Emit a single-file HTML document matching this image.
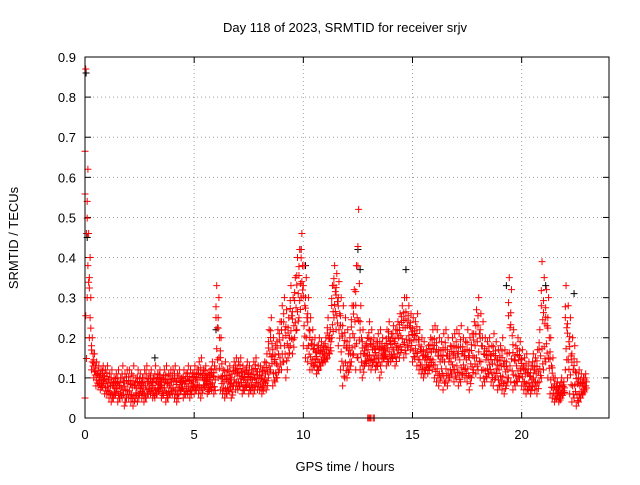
<!DOCTYPE html>
<html><head><meta charset="utf-8"><style>
body{margin:0;background:#fff}
svg text{font-family:"Liberation Sans",sans-serif;font-size:13px;fill:#000}
</style></head><body>
<svg id="chart" width="640" height="480"></svg>
<script>
const yTicks=[0,0.1,0.2,0.3,0.4,0.5,0.6,0.7,0.8,0.9];
const yTickLabels=["0","0.1","0.2","0.3","0.4","0.5","0.6","0.7","0.8","0.9"];
const xTicks=[0,5,10,15,20];
const xTickLabels=["0","5","10","15","20"];
const tStep=0.1;
const redHi=[.87,.62,.40,.20,.16,.14,.13,.12,.13,.12,.13,.11,.12,.10,.11,.12,.10,.13,.11,.12,.12,.11,.13,.10,.12,.11,.10,.12,.13,.11,.12,.10,.13,.11,.12,.10,.12,.13,.11,.12,.12,.13,.11,.12,.10,.12,.11,.13,.12,.11,.13,.12,.14,.15,.12,.13,.11,.12,.14,.13,.33,.30,.20,.12,.14,.12,.13,.11,.14,.15,.14,.15,.13,.12,.14,.13,.12,.14,.15,.13,.13,.12,.14,.16,.22,.25,.20,.18,.22,.24,.28,.30,.27,.25,.33,.30,.35,.40,.42,.46,.38,.35,.30,.25,.22,.20,.18,.20,.19,.18,.20,.25,.22,.33,.38,.36,.34,.30,.28,.25,.22,.20,.28,.32,.38,.52,.28,.22,.18,.20,.24,.22,.20,.19,.21,.22,.20,.18,.22,.24,.21,.23,.22,.24,.26,.28,.30,.30,.28,.26,.25,.24,.26,.22,.20,.19,.17,.18,.20,.22,.23,.22,.20,.19,.21,.22,.20,.18,.20,.21,.22,.21,.23,.20,.19,.22,.20,.21,.24,.27,.30,.26,.24,.20,.19,.20,.18,.21,.19,.17,.18,.20,.17,.16,.35,.32,.22,.18,.20,.19,.17,.15,.16,.14,.13,.16,.15,.17,.22,.39,.35,.32,.30,.20,.15,.10,.09,.08,.10,.09,.33,.28,.25,.20,.18,.14,.12,.11,.10,.11];
const redLo=[.05,.30,.20,.12,.10,.08,.08,.07,.08,.06,.06,.05,.04,.05,.06,.04,.05,.05,.03,.05,.05,.04,.03,.05,.04,.06,.05,.04,.05,.06,.06,.05,.05,.06,.07,.05,.06,.04,.05,.06,.06,.05,.04,.06,.07,.05,.06,.06,.05,.07,.06,.07,.06,.05,.07,.08,.06,.07,.07,.06,.12,.10,.07,.06,.05,.06,.07,.05,.08,.07,.07,.08,.06,.07,.08,.06,.07,.06,.08,.07,.07,.06,.08,.07,.10,.12,.08,.09,.10,.12,.12,.14,.10,.15,.18,.16,.20,.22,.25,.30,.18,.15,.14,.12,.12,.13,.11,.12,.13,.14,.14,.15,.16,.20,.25,.22,.18,.12,.08,.10,.10,.12,.14,.16,.12,.15,.12,.10,.13,.14,.13,.12,.14,.12,.13,.10,.14,.15,.13,.14,.14,.15,.13,.16,.15,.17,.15,.16,.18,.17,.14,.15,.13,.12,.11,.10,.12,.11,.13,.12,.10,.09,.08,.10,.07,.09,.08,.10,.11,.09,.10,.08,.09,.11,.10,.09,.07,.10,.12,.11,.12,.10,.08,.09,.10,.11,.09,.08,.10,.07,.08,.07,.06,.08,.10,.09,.07,.08,.09,.10,.08,.07,.06,.07,.06,.08,.07,.06,.09,.10,.12,.14,.10,.06,.05,.04,.05,.04,.05,.06,.12,.10,.06,.04,.05,.03,.04,.05,.06,.07];
const zeroT=[12.95,13.0,13.05,13.1,13.2,13.25];
const zeroV=[0,0,0,0,0,0];
const blackT=[0.05,0.1,9.9,10.1,12.5,12.6,14.7,19.3,21.1,22.4,6.0,3.2];
const blackV=[0.86,0.45,0.42,0.38,0.42,0.37,0.37,0.33,0.33,0.31,0.22,0.15];
const NS="http://www.w3.org/2000/svg";
const svg=document.getElementById('chart');
const L=85,R=609,T=57,B=418,xMax=24,yMax=0.9;
const xs=v=>L+v/xMax*(R-L), ys=v=>B-v/yMax*(B-T);
function mk(tag,a){const e=document.createElementNS(NS,tag);for(const k in a)e.setAttribute(k,a[k]);svg.appendChild(e);return e;}
yTicks.forEach((v,i)=>{
 if(i>0&&i<yTicks.length-1){const g=mk('line',{x1:L,x2:R,y1:ys(v),y2:ys(v),stroke:'#a0a0a0','stroke-dasharray':'1,3'});
 
 }
 const t=mk('text',{x:L-9,y:ys(v)+5,'text-anchor':'end'});t.textContent=yTickLabels[i];
 
 
 mk('line',{x1:L,x2:L+6,y1:ys(v),y2:ys(v),stroke:'#000'});
 mk('line',{x1:R,x2:R-6,y1:ys(v),y2:ys(v),stroke:'#000'});
});
xTicks.forEach((v,i)=>{
 if(i>0){const g=mk('line',{x1:xs(v),x2:xs(v),y1:T,y2:B,stroke:'#a0a0a0','stroke-dasharray':'1,3'});
 
 }
 const t=mk('text',{x:xs(v),y:B+21,'text-anchor':'middle'});t.textContent=xTickLabels[i];
 
 
 mk('line',{x1:xs(v),x2:xs(v),y1:B,y2:B-6,stroke:'#000'});
 mk('line',{x1:xs(v),x2:xs(v),y1:T,y2:T+6,stroke:'#000'});
});
function plus(x,y,c,name){const p=mk('path',{d:`M${x-3.5},${y}h7M${x},${y-3.5}v7`,stroke:c,'stroke-width':1});
 
 }
blackT.forEach((t,i)=>plus(xs(t),ys(blackV[i]),'#000','black-point'));
const fr=[0,0.25,0.5,0.75,1,0.12,0.62];
redHi.forEach((h,i)=>{
 const lo=redLo[i];
 fr.forEach((f,j)=>{const t=i*tStep+(j%3)*0.033;plus(xs(t),ys(lo+(h-lo)*f),'#f00','red-point');});
});
zeroT.forEach((t,i)=>plus(xs(t),ys(zeroV[i]),'#f00','red-zero-point'));
mk('rect',{x:L,y:T,width:R-L,height:B-T,fill:'none',stroke:'#000'});
const tt=mk('text',{x:345,y:32,'text-anchor':'middle'});tt.textContent='Day 118 of 2023, SRMTID for receiver srjv';


const xl=mk('text',{x:345,y:471,'text-anchor':'middle'});xl.textContent='GPS time / hours';


const yl=mk('text',{x:0,y:0,'text-anchor':'middle',transform:'translate(18,238) rotate(-90)'});yl.textContent='SRMTID / TECUs';


</script>
</body></html>
